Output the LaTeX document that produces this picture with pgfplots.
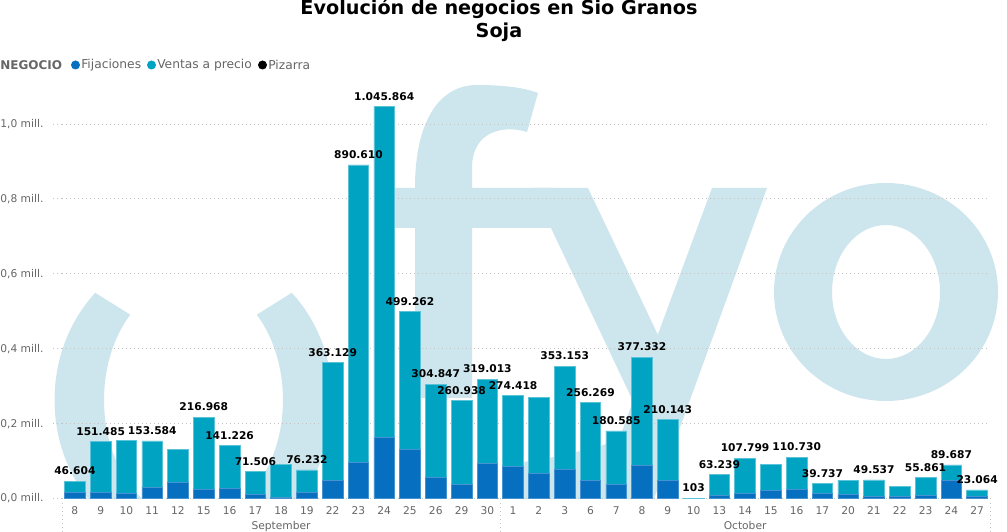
\documentclass[border=0pt]{standalone}
\usepackage{fontspec}
\setmainfont{DejaVu Sans}
\usepackage{pgfplots}
\pgfplotsset{compat=1.18}
\usepackage{pgfplotstable}

\definecolor{fij}{RGB}{7,111,192}
\definecolor{ven}{RGB}{1,163,195}
\definecolor{wm}{RGB}{205,230,238}
\definecolor{grd}{RGB}{195,195,195}
\definecolor{txt}{RGB}{102,102,102}

% values in millions
\pgfplotstableread{
x  fij     ven       tot       lab
0  0.0155  0.031104  0.046604  46.604
1  0.017   0.134485  0.151485  151.485
2  0.013   0.143     0.156     {}
3  0.030   0.123584  0.153584  153.584
4  0.043   0.087     0.130     {}
5  0.025   0.191968  0.216968  216.968
6  0.027   0.114226  0.141226  141.226
7  0.011   0.060506  0.071506  71.506
8  0.003   0.088     0.091     {}
9  0.017   0.059232  0.076232  76.232
10 0.049   0.314129  0.363129  363.129
11 0.096   0.794610  0.890610  890.610
12 0.163   0.882864  1.045864  1.045.864
13 0.130   0.369262  0.499262  499.262
14 0.057   0.247847  0.304847  304.847
15 0.038   0.222938  0.260938  260.938
16 0.094   0.225013  0.319013  319.013
17 0.086   0.188418  0.274418  274.418
18 0.067   0.204     0.271     {}
19 0.078   0.275153  0.353153  353.153
20 0.049   0.207269  0.256269  256.269
21 0.038   0.142585  0.180585  180.585
22 0.089   0.288332  0.377332  377.332
23 0.049   0.161143  0.210143  210.143
24 0.0     0.000103  0.000103  103
25 0.0075  0.055739  0.063239  63.239
26 0.014   0.093799  0.107799  107.799
27 0.022   0.068     0.090     {}
28 0.025   0.085730  0.110730  110.730
29 0.014   0.025737  0.039737  39.737
30 0.011   0.038     0.049     {}
31 0.006   0.043537  0.049537  49.537
32 0.006   0.027     0.033     {}
33 0.0085  0.047361  0.055861  55.861
34 0.049   0.040687  0.089687  89.687
35 0.006   0.017064  0.023064  23.064
}\datatable

\pgfplotsset{
  mybox/.style={
    at={(46.5pt,25.125pt)}, anchor=south west,
    scale only axis, width=696pt, height=314.58pt,
    xmin=-0.5, xmax=35.5, ymin=0, ymax=1.12,
    clip=false,
  }
}

\begin{document}
\begin{tikzpicture}
\useasboundingbox (0,0) rectangle (755.25pt,399pt);
\fill[white] (0,0) rectangle (755.25pt,399pt);
\begin{scope}[x=0.75pt,y=-0.75pt,shift={(0pt,399pt)}]
  % watermark
  \begin{scope}
    \clip (50,79) rectangle (1007,498.5);
    \fill[wm] (291.8,292.8) arc[start angle=-45,end angle=225,x radius=139,y radius=151.6]
      -- (130.2,314.7) arc[start angle=225,end angle=-45,x radius=89.5,y radius=120.6] -- cycle;
    \fill[wm] (415,398) -- (415,228) -- (395,228) -- (395,188) -- (415,188)
      .. controls (415,120) and (440,85) .. (477,85)
      .. controls (505,85) and (525,88) .. (538,93)
      -- (527,132) .. controls (505,125) and (472,130) .. (472,168)
      -- (472,188) -- (553,188) -- (553,228) -- (472,228) -- (472,398) -- cycle;
    \fill[wm] (532,188) -- (588,188) -- (657.8,334.6) -- (712,188) -- (767,188)
      -- (650,510) -- (518,510) -- (518,463) -- (560,456) -- (600,446) -- (619,440)
      -- (633,401) -- cycle;
    \fill[wm,even odd rule] (886,292) ellipse[x radius=112,y radius=109]
      (886,292) ellipse[x radius=54,y radius=67];
  \end{scope}
  % title
  \node[anchor=base,font=\fontsize{14.4}{16}\selectfont\bfseries] at (499,15) {Evolución de negocios en Sio Granos};
  \node[anchor=base,font=\fontsize{14.4}{16}\selectfont\bfseries] at (499,37.5) {Soja};
  % legend
  \node[anchor=west,inner sep=0pt,text=txt,font=\fontsize{9}{11}\selectfont\bfseries] at (0,65) {NEGOCIO};
  \fill[fij] (75.5,65) circle[radius=4.5];
  \node[anchor=west,inner sep=0pt,text=txt,font=\fontsize{9.2}{11}\selectfont] at (81,65) {Fijaciones};
  \fill[ven] (151.5,65) circle[radius=4.5];
  \node[anchor=west,inner sep=0pt,text=txt,font=\fontsize{9.2}{11}\selectfont] at (157,65) {Ventas a precio};
  \fill[black] (262.5,65) circle[radius=4.5];
  \node[anchor=west,inner sep=0pt,text=txt,font=\fontsize{9.2}{11}\selectfont] at (268,65) {Pizarra};
  % grid extension to the left of the plot area
  \foreach \gy in {498.5,423.6,348.7,273.8,198.9,124.0}
    \draw[grd, line width=0.7pt, dash pattern=on 0.7pt off 2.3pt] (53,\gy) -- (62,\gy);
\end{scope}

\begin{axis}[
  mybox,
  ybar stacked, bar width=15.5pt,
  axis line style={draw=none},
  major tick length=0pt,
  ytick={0,0.2,0.4,0.6,0.8,1.0},
  yticklabels={{0,0 mill.},{0,2 mill.},{0,4 mill.},{0,6 mill.},{0,8 mill.},{1,0 mill.}},
  yticklabel style={font=\fontsize{8}{9.6}\selectfont, text=txt, xshift=-10.4pt},
  xtick={0,...,35},
  xticklabels={8,9,10,11,12,15,16,17,18,19,22,23,24,25,26,29,30,1,2,3,6,7,8,9,10,13,14,15,16,17,20,21,22,23,24,27},
  xticklabel style={font=\fontsize{8}{9.6}\selectfont, text=txt, yshift=-2.8pt},
  ymajorgrids,
  grid style={grd, line width=0.7pt, dash pattern=on 0.7pt off 2.3pt},
]
\addplot[fill=fij, draw=fij!75!white, line width=0.5pt] table[x=x,y=fij]{\datatable};
\addplot[fill=ven, draw=ven!65!white, line width=0.5pt] table[x=x,y=ven]{\datatable};

\node[font=\fontsize{8}{9.6}\selectfont, text=txt, anchor=base] at (axis cs:8,0) [yshift=-23.5pt] {September};
\node[font=\fontsize{8}{9.6}\selectfont, text=txt, anchor=base] at (axis cs:26,0) [yshift=-23.5pt] {October};
\draw[grd, line width=0.7pt, dash pattern=on 0.7pt off 2.3pt] (axis cs:-0.5,0) -- ++(0pt,-25.1pt);
\draw[grd, line width=0.7pt, dash pattern=on 0.7pt off 2.3pt] (axis cs:16.5,0) -- ++(0pt,-25.1pt);
\draw[grd, line width=0.7pt, dash pattern=on 0.7pt off 2.3pt] (axis cs:35.5,0) -- ++(0pt,-25.1pt);
\end{axis}

% total labels (Pizarra is zero everywhere; labels sit on the stacked totals)
\begin{axis}[mybox, hide axis]
\addplot[only marks, mark=none, nodes near coords, point meta=explicit symbolic,
  every node near coord/.append style={font=\fontsize{8}{9.6}\selectfont\bfseries, text=black, anchor=south, yshift=1.2pt}]
  table[x=x,y=tot,meta=lab]{\datatable};
\end{axis}
\end{tikzpicture}
\end{document}
